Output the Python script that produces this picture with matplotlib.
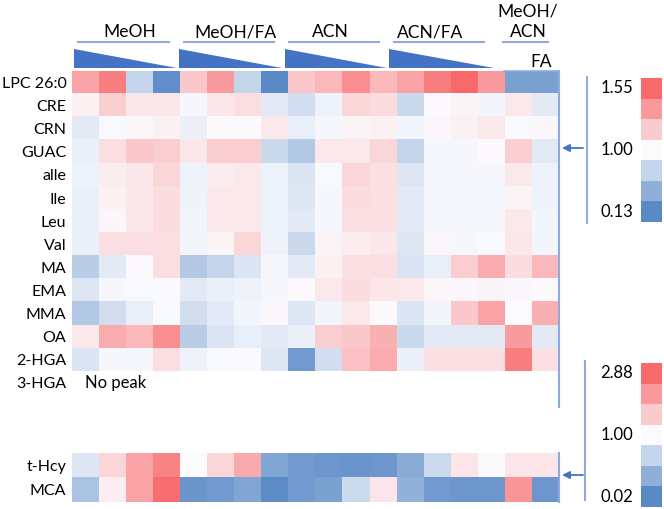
import numpy as np
import matplotlib
matplotlib.use("Agg")
import matplotlib.pyplot as plt
from matplotlib.colors import LinearSegmentedColormap, TwoSlopeNorm
from matplotlib.patches import Polygon

plt.rcParams['font.family'] = ['Lato', 'DejaVu Sans']

# solvent groups (18 columns, decreasing amount inside each group)
groups = ["MeOH", "MeOH/FA", "ACN", "ACN/FA", "MeOH/\nACN"]
group_sizes = [4, 4, 4, 4, 2]

top_rows = ["LPC 26:0", "CRE", "CRN", "GUAC", "alle", "Ile", "Leu", "Val",
            "MA", "EMA", "MMA", "OA", "2-HGA", "3-HGA"]
bottom_rows = ["t-Hcy", "MCA"]

# relative response (1.00 = reference)
lpc = [1.33, 1.47, 0.70, 0.17, 1.19, 1.36, 0.70, 0.13, 1.19, 1.25, 1.41, 1.25, 1.33, 1.47, 1.55, 1.36, 0.30, 0.30]
cre = [1.04, 1.17, 1.08, 1.08, 0.96, 1.08, 1.11, 0.87, 0.78, 0.93, 1.14, 1.12, 0.74, 1.01, 1.03, 0.95, 1.07, 0.87]
crn = [0.87, 0.98, 1.02, 1.04, 0.91, 1.01, 1.01, 1.07, 0.90, 0.97, 1.03, 1.04, 0.95, 1.02, 1.04, 1.07, 0.98, 1.02]
guac = [0.91, 1.11, 1.19, 1.17, 1.08, 1.17, 1.17, 0.74, 0.61, 1.07, 1.07, 1.14, 0.70, 0.97, 0.96, 1.01, 1.17, 0.87]
alle = [0.93, 1.06, 1.08, 1.14, 0.93, 1.06, 1.07, 0.93, 0.83, 0.98, 1.14, 1.10, 0.84, 0.97, 0.96, 0.96, 1.07, 0.93]
ile = [0.91, 1.04, 1.08, 1.12, 0.93, 1.07, 1.07, 0.93, 0.84, 0.97, 1.12, 1.10, 0.87, 0.97, 0.96, 0.96, 1.03, 0.93]
leu = [0.91, 1.02, 1.08, 1.12, 0.95, 1.07, 1.07, 0.93, 0.87, 0.97, 1.11, 1.10, 0.87, 0.97, 0.97, 0.97, 1.07, 0.95]
val = [0.91, 1.11, 1.11, 1.11, 0.95, 1.03, 1.14, 0.93, 0.74, 1.03, 1.06, 1.08, 0.84, 1.02, 0.96, 0.98, 1.08, 0.95]
ma = [0.65, 0.87, 1.01, 1.11, 0.61, 0.70, 0.83, 0.97, 0.87, 1.04, 1.10, 1.10, 0.81, 0.90, 1.17, 1.30, 1.12, 1.25]
ema = [0.84, 0.96, 0.98, 0.99, 0.87, 0.91, 0.93, 0.96, 1.01, 1.07, 1.12, 1.08, 1.07, 1.02, 1.02, 1.03, 1.02, 1.01]
mma = [0.61, 0.78, 0.90, 0.98, 0.78, 0.87, 0.95, 1.02, 0.84, 0.95, 1.07, 1.01, 0.83, 0.95, 1.19, 1.33, 1.00, 1.28]
oa = [1.07, 1.30, 1.25, 1.41, 0.65, 0.83, 0.90, 0.87, 0.91, 1.17, 1.19, 1.28, 0.74, 0.87, 0.87, 0.87, 1.36, 0.87]
hga2 = [0.83, 0.96, 0.97, 1.11, 0.93, 0.98, 0.99, 0.84, 0.26, 0.78, 1.22, 1.30, 0.91, 1.10, 1.10, 1.10, 1.47, 1.10]
hga3 = [np.nan] * 18  # no peak

thcy = [0.82, 1.47, 2.13, 2.55, 1.02, 1.47, 2.03, 0.27, 0.17, 0.14, 0.12, 0.14, 0.31, 0.71, 1.28, 1.04, 1.28, 1.28]
mca = [0.51, 1.19, 2.13, 2.80, 0.12, 0.17, 0.27, 0.04, 0.17, 0.22, 0.71, 1.28, 0.36, 0.17, 0.14, 0.14, 2.32, 0.14]

top_scale = [0.13, 1.00, 1.55]
bottom_scale = [0.02, 1.00, 2.88]

W, H = 664, 509
line_blue = "#8FAADC"
dark_blue = "#4472C4"
cmap = LinearSegmentedColormap.from_list("rwb", ["#5A8AC6", "#FCFCFF", "#F8696B"])
cmap.set_bad("white")


def px_axes(fig, x0, y0, x1, y1, z=1):
    # place an axes by its pixel box (top-left origin)
    return fig.add_axes([x0 / W, 1 - y1 / H, (x1 - x0) / W, (y1 - y0) / H], zorder=z)


def heatmap(ax, values, rows, scale):
    norm = TwoSlopeNorm(vmin=scale[0], vcenter=scale[1], vmax=scale[2])
    ax.imshow(np.ma.masked_invalid(values), cmap=cmap, norm=norm, aspect="auto",
              interpolation="nearest")
    ax.set_xticks([])
    ax.set_yticks(range(len(rows)))
    ax.set_yticklabels(rows, fontsize=11.5)
    ax.tick_params(axis="y", length=0, pad=4)
    for s in ax.spines.values():
        s.set_visible(False)


def colorbar(fig, box, scale, over):
    ax = px_axes(fig, *box)
    steps = np.linspace(1, 0, 7).reshape(-1, 1)
    ax.imshow(steps, cmap=cmap, vmin=0, vmax=1, aspect="auto")
    ax.axis("off")
    x0, y0, x1, y1 = box
    cell = (y1 - y0) / 7.0
    for lab, i in zip(scale, [6, 3, 0]):
        over.text(x0 - 8, y0 + cell * (i + 0.5), "%.2f" % lab, ha="right",
                  va="center", fontsize=12)


fig = plt.figure(figsize=(W / 100, H / 100), dpi=100)

top_values = np.array([lpc, cre, crn, guac, alle, ile, leu, val, ma, ema, mma, oa, hga2, hga3])
bottom_values = np.array([thcy, mca])

ax_top = px_axes(fig, 72, 71, 559, 71 + 14 * 23.1)
heatmap(ax_top, top_values, top_rows, top_scale)
ax_top.text(-0.02, 13, "No peak", ha="left", va="center", fontsize=12)

ax_bot = px_axes(fig, 72, 453, 559, 502)
heatmap(ax_bot, bottom_values, bottom_rows, bottom_scale)

# overlay in pixel coordinates for header and decorations
over = fig.add_axes([0, 0, 1, 1], zorder=5)
over.set_xlim(0, W)
over.set_ylim(H, 0)
over.axis("off")
over.patch.set_alpha(0)

header_x = [130, 235, 330, 430, 528]
underlines = [(77, 170), (183, 275), (288, 380), (393, 485), (502, 549)]
triangles = [(74, 177), (179, 282), (285, 387), (389, 494)]
for name, hx, (u0, u1) in zip(groups, header_x, underlines):
    over.text(hx, 40, name, ha="center", va="bottom", fontsize=12.5, linespacing=1.35)
    over.plot([u0, u1], [42, 42], color=line_blue, lw=1.5, solid_capstyle="butt")
for t0, t1 in triangles:
    over.add_patch(Polygon([(t0, 49), (t0, 68), (t1, 68)], closed=True,
                           facecolor=dark_blue, edgecolor="none"))
over.text(541, 62, "FA", ha="center", va="center", fontsize=12.5)
over.plot([504, 559], [71, 71], color=line_blue, lw=1.2)

# right border of the heatmaps
over.plot([559, 559], [71, 407], color=line_blue, lw=1.5)
over.plot([559, 559], [453, 502], color=line_blue, lw=1.5)

# scale brackets and arrows
over.plot([587, 587], [77, 223], color=line_blue, lw=1.5)
over.plot([585, 585], [361, 500], color=line_blue, lw=1.5)
for ya in [148, 475]:
    over.annotate("", xy=(562, ya), xytext=(583, ya),
                  arrowprops=dict(arrowstyle="-|>", color=dark_blue, lw=1.3,
                                  mutation_scale=11, shrinkA=0, shrinkB=0))

colorbar(fig, (641, 78, 662, 222), top_scale, over)
colorbar(fig, (641, 363, 662, 507), bottom_scale, over)

plt.savefig("out.png", dpi=100)
plt.close()
